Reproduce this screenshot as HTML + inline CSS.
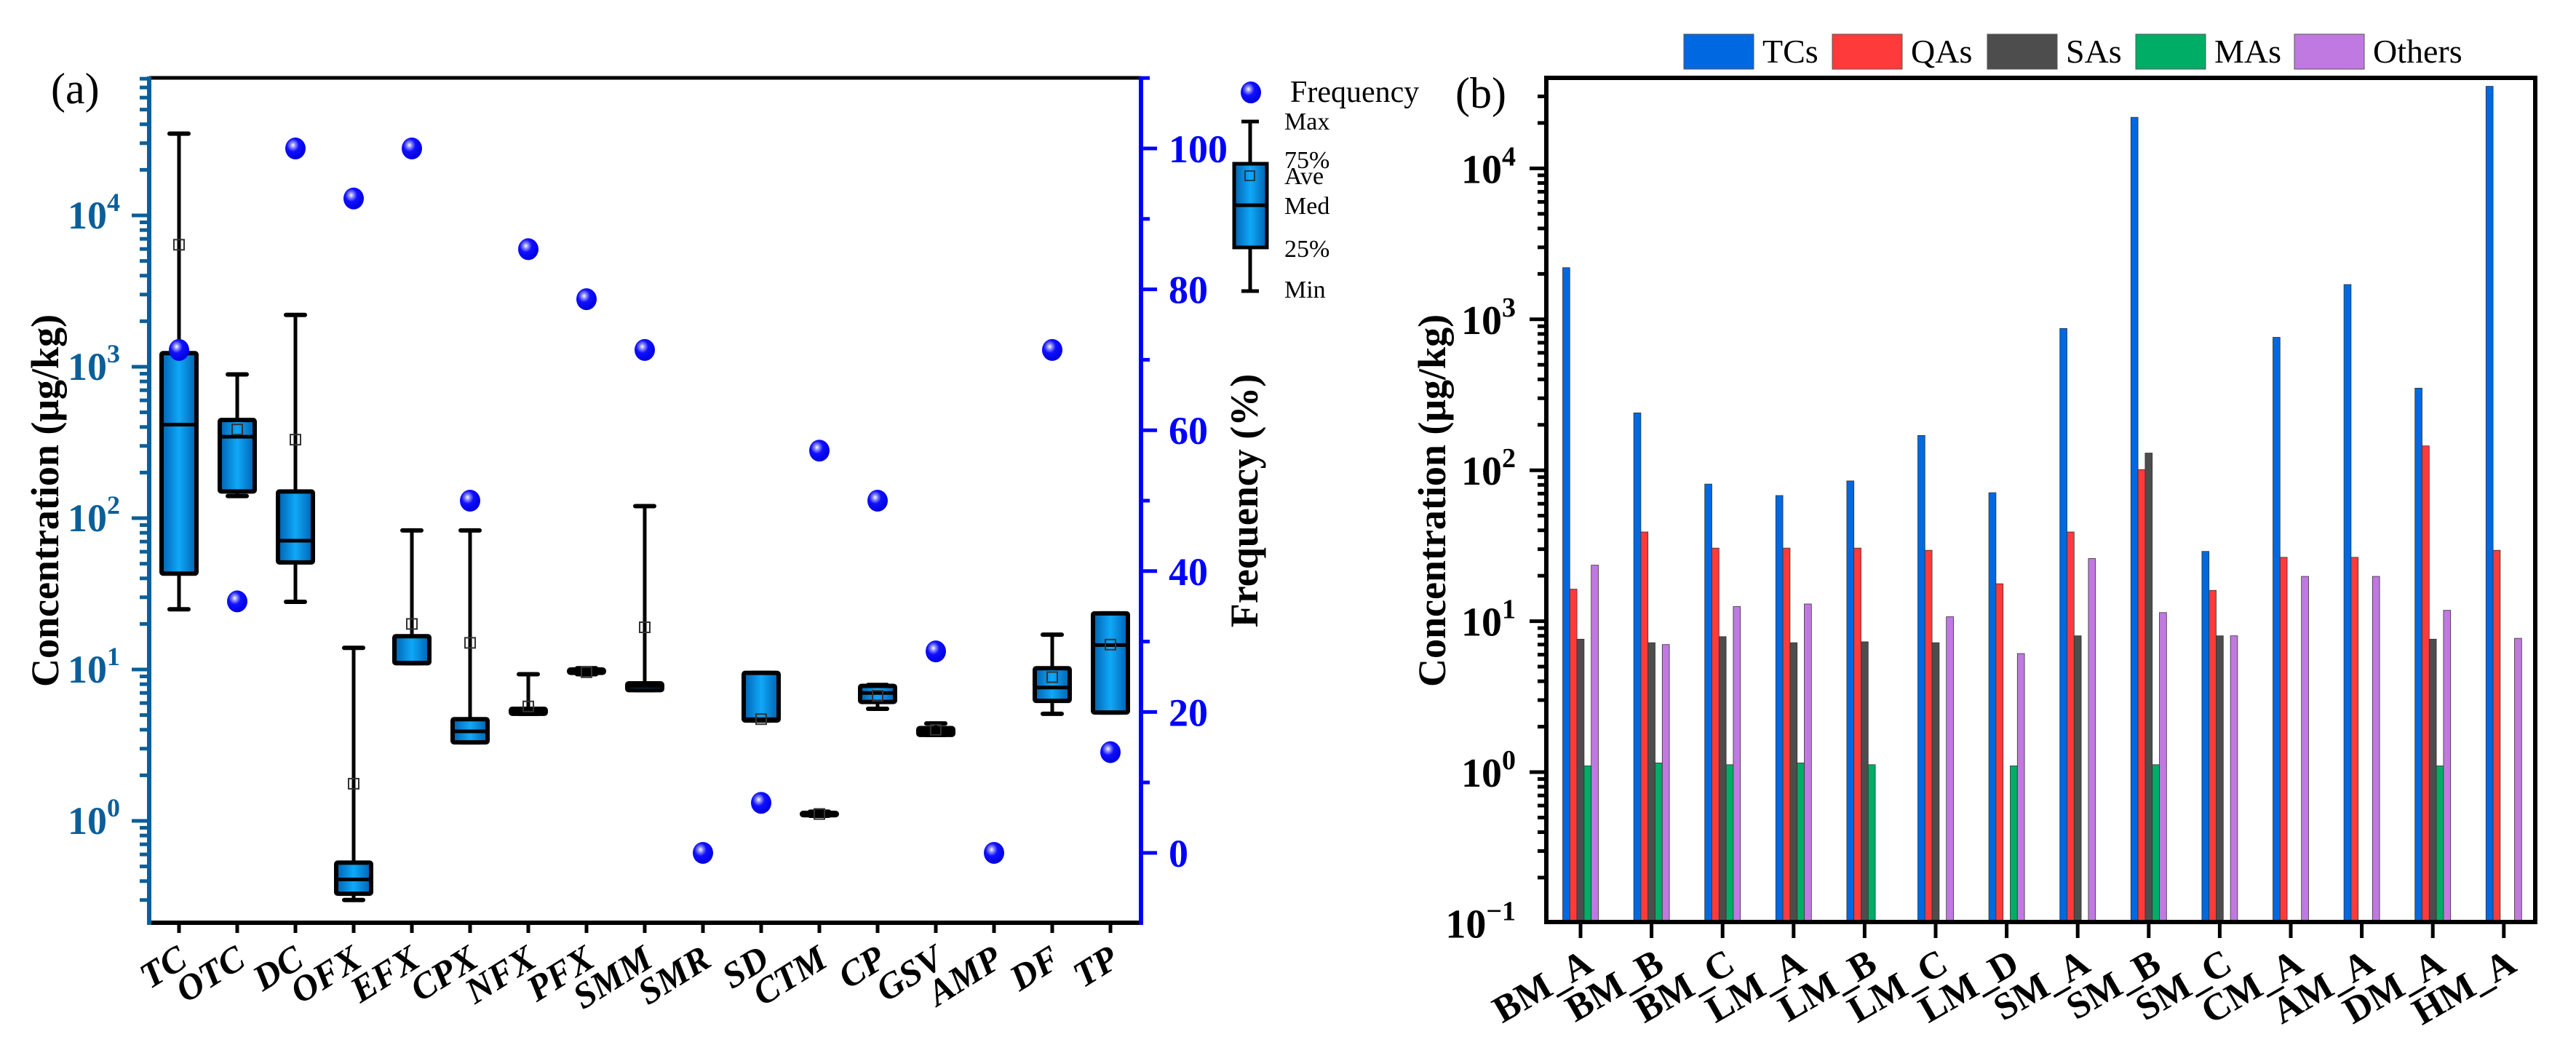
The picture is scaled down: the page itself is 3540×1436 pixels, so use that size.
<!DOCTYPE html>
<html><head><meta charset="utf-8"><style>
html,body{margin:0;padding:0;background:#fff}
svg{display:block}
text{font-family:"Liberation Serif",serif}
</style></head><body>
<svg id="chart" width="3540" height="1436" viewBox="0 0 3540 1436" xmlns="http://www.w3.org/2000/svg">
<defs>
<linearGradient id="boxg" x1="0" x2="1" y1="0" y2="0">
<stop offset="0" stop-color="#0060b0"/><stop offset="0.5" stop-color="#10a8f8"/><stop offset="1" stop-color="#0060b0"/>
</linearGradient>
<radialGradient id="dotg" cx="0.38" cy="0.35" r="0.65">
<stop offset="0" stop-color="#ffffff"/><stop offset="0.18" stop-color="#9090ff"/><stop offset="0.45" stop-color="#1010ff"/><stop offset="1" stop-color="#0000e0"/>
</radialGradient>
</defs>
<g id="pa"></g>
<g id="pb"></g>
</svg>
<script>
// ---------- Panel (a) data ----------
const catsA = ["TC","OTC","DC","OFX","EFX","CPX","NFX","PFX","SMM","SMR","SD","CTM","CP","GSV","AMP","DF","TP"];
const boxMax = [34700,890,2200,13.9,83,83,9.3,10.2,120,null,9.5,1.15,7.9,4.4,null,17,23.5];
const boxQ3  = [1230,445,150,0.53,16.6,4.7,5.5,10,8.1,null,9.5,1.13,7.8,4.1,null,10.2,23.5];
const boxMed = [415,345,71,0.41,11.1,3.9,5.3,9.8,7.8,null,4.7,1.11,7.0,3.9,null,7.6,14.5];
const boxQ1  = [43,150,51,0.33,11,3.3,5.1,9.5,7.3,null,4.6,1.09,6.1,3.7,null,6.2,5.2];
const boxMin = [25,140,28,0.30,11,3.3,5.1,9.3,7.3,null,4.6,1.08,5.5,3.7,null,5.1,5.2];
const boxMean= [6400,385,330,1.76,20,15,5.7,9.6,19,null,4.7,1.11,6.7,4.0,null,8.9,14.6];
const freq   = [71.4,35.7,100,92.9,100,50,85.7,78.6,71.4,0,7.1,57.1,50,28.6,0,71.4,14.3];
const freqTicks = [0,20,40,60,80,100];
const concTicksA = [0,1,2,3,4];

// ---------- Panel (b) data ----------
const catsB = ["BM_A","BM_B","BM_C","LM_A","LM_B","LM_C","LM_D","SM_A","SM_B","SM_C","CM_A","AM_A","DM_A","HM_A"];
const seriesNames = ["TCs","QAs","SAs","MAs","Others"];
const tcs    = [2200,240,81,68,85,170,71,870,21800,29,760,1700,350,35000];
const qas    = [16.3,39,30.5,30.5,30.5,29.5,17.7,39,101,16,26.5,26.5,145,29.5];
const sas    = [7.6,7.2,7.9,7.2,7.3,7.2,null,8.0,130,8,null,null,7.6,null];
const mas    = [1.1,1.15,1.12,1.15,1.12,null,1.1,null,1.12,null,null,null,1.1,null];
const others = [23.5,7.0,12.5,13,null,10.7,6.1,26,11.4,8,19.8,19.8,11.8,7.7];
const concTicksB = [-1,0,1,2,3,4];

const NS="http://www.w3.org/2000/svg";
function mk(parent,tag,attrs,txt){const e=document.createElementNS(NS,tag);for(const k in attrs)e.setAttribute(k,attrs[k]);if(txt!==undefined)e.textContent=txt;parent.appendChild(e);return e;}

// ===== Panel A =====
const pa=document.getElementById('pa');
const AX0=205,AX1=1568,AY0=107,AY1=1268;
const aLogZero=1128,aDec=208;
const yA=v=>aLogZero-Math.log10(v)*aDec;
const fY=p=>1172-p*9.68;
const xA=i=>246+i*80;
const teal="#0a5f99";

let e;
e=mk(pa,'line',{x1:AX0,y1:AY0,x2:AX1,y2:AY0,stroke:'#000','stroke-width':5});

e=mk(pa,'line',{x1:AX0-2,y1:AY1,x2:AX1,y2:AY1,stroke:'#000','stroke-width':6});

e=mk(pa,'line',{x1:AX0,y1:AY0-2,x2:AX0,y2:AY1+3,stroke:teal,'stroke-width':6});

e=mk(pa,'line',{x1:AX1,y1:AY0-2,x2:AX1,y2:AY1+3,stroke:'#0000ff','stroke-width':6});


for(let d=-1;d<=4;d++){for(let m=1;m<=9;m++){const v=m*Math.pow(10,d);const y=yA(v);if(y<AY0||y>AY1)continue;
 e=mk(pa,'line',{x1:m===1?AX0-24:AX0-13,y1:y,x2:AX0,y2:y,stroke:teal,'stroke-width':5});
 }}
concTicksA.forEach(p=>{const t=mk(pa,'text',{x:AX0-40,y:yA(Math.pow(10,p))+18,'text-anchor':'end','font-size':54,'font-weight':'bold',fill:teal});
 
 mk(t,'tspan',{},'10');mk(t,'tspan',{dy:-24,'font-size':36},String(p));});
for(let p=-10;p<=110;p+=10){const y=fY(p);if(y<AY0||y>AY1)continue;
 e=mk(pa,'line',{x1:AX1,y1:y,x2:AX1+(p%20===0?22:12),y2:y,stroke:'#0000ff','stroke-width':5});
 }
freqTicks.forEach(p=>{e=mk(pa,'text',{x:AX1+38,y:fY(p)+19,'font-size':54,'font-weight':'bold',fill:'#0000ff'},String(p));
 });
e=mk(pa,'text',{x:0,y:0,transform:'translate(80,688) rotate(-90)','text-anchor':'middle','font-size':54,'font-weight':'bold'},'Concentration (μg/kg)');

e=mk(pa,'text',{x:0,y:0,transform:'translate(1728,688) rotate(-90)','text-anchor':'middle','font-size':54,'font-weight':'bold'},'Frequency (%)');

e=mk(pa,'text',{x:70,y:142,'font-size':60},'(a)');


catsA.forEach((c,i)=>{const x=xA(i);
 e=mk(pa,'line',{x1:x,y1:AY1,x2:x,y2:AY1+14,stroke:'#000','stroke-width':5});
 
 e=mk(pa,'text',{x:0,y:0,transform:`translate(${x+14},${AY1+58}) rotate(-32)`,'text-anchor':'end','font-size':50,'font-weight':'bold','font-style':'italic'},c);
 
 if(boxMax[i]!==null){
  const g=mk(pa,'g',{});
  
  const bw=48;
  mk(g,'line',{x1:x,y1:yA(boxMax[i]),x2:x,y2:yA(boxQ3[i]),stroke:'#000','stroke-width':5});
  mk(g,'line',{x1:x,y1:yA(boxQ1[i]),x2:x,y2:yA(boxMin[i]),stroke:'#000','stroke-width':5});
  mk(g,'line',{x1:x-13,y1:yA(boxMax[i]),x2:x+13,y2:yA(boxMax[i]),stroke:'#000','stroke-width':6,'stroke-linecap':'round'});
  mk(g,'line',{x1:x-13,y1:yA(boxMin[i]),x2:x+13,y2:yA(boxMin[i]),stroke:'#000','stroke-width':6,'stroke-linecap':'round'});
  const t=yA(boxQ3[i]),b=yA(boxQ1[i]);
  mk(g,'rect',{x:x-bw/2,y:t,width:bw,height:Math.max(b-t,2),fill:'url(#boxg)',stroke:'#000','stroke-width':6,rx:2});
  mk(g,'line',{x1:x-bw/2,y1:yA(boxMed[i]),x2:x+bw/2,y2:yA(boxMed[i]),stroke:'#000','stroke-width':5});
  const my=yA(boxMean[i]);
  mk(g,'rect',{x:x-7,y:my-7,width:14,height:14,fill:'none',stroke:'#333','stroke-width':2});
 }
});
freq.forEach((f,i)=>{e=mk(pa,'ellipse',{cx:xA(i),cy:fY(f),rx:14,ry:15,fill:'url(#dotg)'});
 });

const lg=mk(pa,'g',{});
mk(lg,'ellipse',{cx:1719,cy:127,rx:14,ry:15,fill:'url(#dotg)'});
mk(lg,'text',{x:1773,y:140,'font-size':42},'Frequency');
mk(lg,'line',{x1:1718,y1:167,x2:1718,y2:400,stroke:'#000','stroke-width':5});
mk(lg,'line',{x1:1706,y1:167,x2:1730,y2:167,stroke:'#000','stroke-width':5});
mk(lg,'line',{x1:1706,y1:400,x2:1730,y2:400,stroke:'#000','stroke-width':5});
mk(lg,'rect',{x:1696,y:225,width:45,height:115,fill:'url(#boxg)',stroke:'#000','stroke-width':5});
mk(lg,'line',{x1:1696,y1:282,x2:1741,y2:282,stroke:'#000','stroke-width':5});
mk(lg,'rect',{x:1711,y:235,width:13,height:13,fill:'none',stroke:'#222','stroke-width':1.5});
[['Max',178],['75%',231],['Ave',253],['Med',294],['25%',353],['Min',409]].forEach(([t,y])=>mk(lg,'text',{x:1765,y:y,'font-size':34},t));

// ===== Panel B =====
const pb=document.getElementById('pb');
const BX0=2125,BX1=3484,BY0=107,BY1=1267;
const bZero=1061,bDec=207.4;
const yB=v=>bZero-Math.log10(v)*bDec;
const xB=i=>2172+i*97.6;
const colors=["#0068e0","#ff3a3a","#4d4d4d","#00ad66","#c079e0"];
const series=[tcs,qas,sas,mas,others];
const bw=9.8;
series.forEach((s,k)=>{s.forEach((v,i)=>{if(v===null)return;
 const x=xB(i)-2.5*bw+k*bw;const y=yB(v);
 e=mk(pb,'rect',{x:x,y:y,width:bw,height:BY1-y,fill:colors[k],stroke:'#333','stroke-width':0.8});
 
 });});
e=mk(pb,'rect',{x:BX0,y:BY0,width:BX1-BX0,height:BY1-BY0,fill:'none',stroke:'#000','stroke-width':6});

for(let d=-1;d<=4;d++){for(let m=1;m<=9;m++){const v=m*Math.pow(10,d);const y=yB(v);if(y<BY0||y>BY1+1)continue;
 e=mk(pb,'line',{x1:m===1?BX0-23:BX0-12,y1:y,x2:BX0,y2:y,stroke:'#000','stroke-width':5});
 }}
concTicksB.forEach(p=>{const t=mk(pb,'text',{x:BX0-42,y:yB(Math.pow(10,p))+20,'text-anchor':'end','font-size':56,'font-weight':'bold'});
 
 mk(t,'tspan',{},'10');mk(t,'tspan',{dy:-24,'font-size':38},p<0?'−'+Math.abs(p):String(p));});
catsB.forEach((c,i)=>{const x=xB(i);
 e=mk(pb,'line',{x1:x,y1:BY1,x2:x,y2:BY1+22,stroke:'#000','stroke-width':5});
 
 e=mk(pb,'text',{x:0,y:0,transform:`translate(${x+20},${BY1+66}) rotate(-30)`,'text-anchor':'end','font-size':52,'font-weight':'bold'},c);
 });
e=mk(pb,'text',{x:0,y:0,transform:'translate(1986,688) rotate(-90)','text-anchor':'middle','font-size':54,'font-weight':'bold'},'Concentration (μg/kg)');

e=mk(pb,'text',{x:2000,y:148,'font-size':60},'(b)');

const legX=[2314,2518,2731,2935,3153];
seriesNames.forEach((n,k)=>{const g=mk(pb,'g',{});
 
 mk(g,'rect',{x:legX[k],y:47,width:96,height:48,fill:colors[k],stroke:'#555','stroke-width':1});
 mk(g,'text',{x:legX[k]+108,y:86,'font-size':46},n);});
</script>
</body></html>
